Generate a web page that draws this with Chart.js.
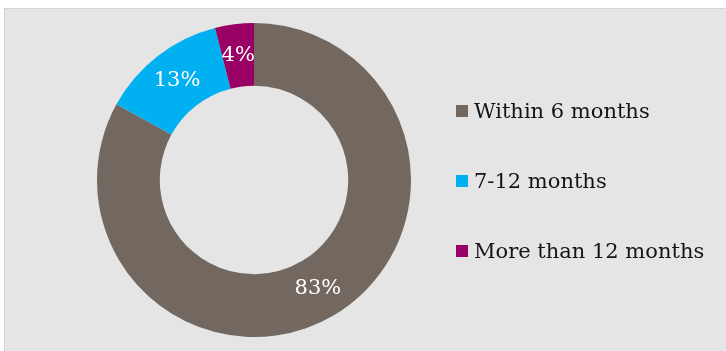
<!DOCTYPE html>
<html>
<head>
<meta charset="utf-8">
<script src="https://cdn.jsdelivr.net/npm/chart.js@4"></script>
<style>
  html, body { margin: 0; padding: 0; background: #ffffff; overflow: hidden; }
  #panel {
    position: absolute; left: 4px; top: 8px; width: 730px; height: 350px;
    background: #e5e5e5; border-left: 1px solid #d7d3cf; border-top: 1px solid #d7d3cf;
  }
  #wrap { position: absolute; left: 0; top: 0; width: 498px; height: 342px; }
  #legend {
    position: absolute; left: 451px; top: 88px; margin: 0; padding: 0; list-style: none;
    font-family: 'DejaVu Serif', 'Liberation Serif', serif; font-size: 21px; color: #141414;
  }
  #legend li { height: 70px; line-height: 28px; white-space: nowrap; }
  #legend span {
    display: inline-block; width: 12px; height: 12px; margin-right: 6px; vertical-align: 1px;
  }
</style>
</head>
<body>
<div id="panel">
  <div id="wrap"><canvas id="donutChart"></canvas></div>
  <ul id="legend"></ul>
</div>
<script>
const categories = ["Within 6 months", "7-12 months", "More than 12 months"];
const shares = [83, 13, 4];
const sliceColors = ["#72685f", "#00b0f0", "#990066"];

const serif = "'DejaVu Serif', 'Liberation Serif', serif";

// white percentage labels in the middle of each ring segment
const sliceLabels = {
    id: "sliceLabels",
    afterDatasetsDraw(chart) {
        const ctx = chart.ctx;
        const meta = chart.getDatasetMeta(0);
        ctx.save();
        ctx.fillStyle = "#ffffff";
        ctx.font = "21px " + serif;
        ctx.textAlign = "center";
        ctx.textBaseline = "middle";
        meta.data.forEach((arc, i) => {
            const p = arc.tooltipPosition();
            ctx.fillText(shares[i] + "%", p.x, p.y);
        });
        ctx.restore();
    }
};

const ctx = document.getElementById("donutChart").getContext("2d");
new Chart(ctx, {
    type: "doughnut",
    data: {
        labels: categories,
        datasets: [{
            data: shares,
            backgroundColor: sliceColors,
            borderWidth: 0,
        }]
    },
    options: {
        responsive: true,
        maintainAspectRatio: false,
        animation: false,
        cutout: "60%",
        layout: { padding: { top: 14, bottom: 14 } },
        plugins: {
            tooltip: { enabled: false },
            legend: { display: false }
        }
    },
    plugins: [sliceLabels]
});

// legend on the right, built from the same arrays
const legend = document.getElementById("legend");
categories.forEach((name, i) => {
    const li = document.createElement("li");
    const box = document.createElement("span");
    box.style.background = sliceColors[i];
    li.appendChild(box);
    li.appendChild(document.createTextNode(name));
    legend.appendChild(li);
});
</script>
</body>
</html>
